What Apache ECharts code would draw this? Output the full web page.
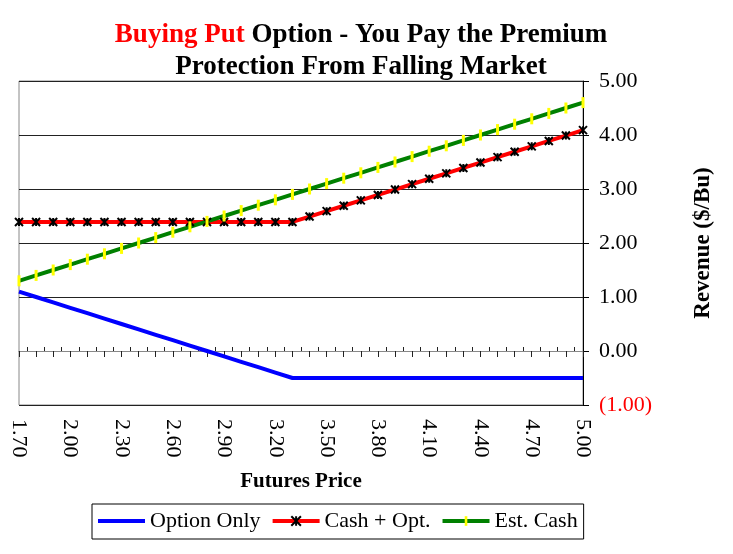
<!DOCTYPE html>
<html>
<head>
<meta charset="utf-8">
<script src="https://cdn.jsdelivr.net/npm/echarts@6/dist/echarts.min.js"></script>
<style>
html,body{margin:0;padding:0;background:#fff;}
#chart{width:733px;height:554px;}
</style>
</head>
<body>
<div id="chart"></div>
<script>
// ---- data ----
const categories = ['1.70','1.80','1.90','2.00','2.10','2.20','2.30','2.40','2.50','2.60','2.70','2.80','2.90','3.00','3.10','3.20','3.30','3.40','3.50','3.60','3.70','3.80','3.90','4.00','4.10','4.20','4.30','4.40','4.50','4.60','4.70','4.80','4.90','5.00'];
const midCategories = ['1.75','1.85','1.95','2.05','2.15','2.25','2.35','2.45','2.55','2.65','2.75','2.85','2.95','3.05','3.15','3.25','3.35','3.45','3.55','3.65','3.75','3.85','3.95','4.05','4.15','4.25','4.35','4.45','4.55','4.65','4.75','4.85','4.95'];
const optionOnly = [1.10,1.00,0.90,0.80,0.70,0.60,0.50,0.40,0.30,0.20,0.10,0.00,-0.10,-0.20,-0.30,-0.40,-0.50,-0.50,-0.50,-0.50,-0.50,-0.50,-0.50,-0.50,-0.50,-0.50,-0.50,-0.50,-0.50,-0.50,-0.50,-0.50,-0.50,-0.50];
const cashPlusOpt = [2.39,2.39,2.39,2.39,2.39,2.39,2.39,2.39,2.39,2.39,2.39,2.39,2.39,2.39,2.39,2.39,2.39,2.49,2.59,2.69,2.79,2.89,2.99,3.09,3.19,3.29,3.39,3.49,3.59,3.69,3.79,3.89,3.99,4.09];
const estCash = [1.30,1.40,1.50,1.60,1.70,1.80,1.90,2.00,2.10,2.20,2.30,2.40,2.50,2.60,2.70,2.80,2.90,3.00,3.10,3.20,3.30,3.40,3.50,3.60,3.70,3.80,3.90,4.00,4.10,4.20,4.30,4.40,4.50,4.60];
const seriesNames = ['Option Only','Cash + Opt.','Est. Cash'];
const yMin = -1, yMax = 5, yStep = 1;

const FONT = "'Liberation Serif','Times New Roman',serif";
const chart = echarts.init(document.getElementById('chart'), null, {renderer:'canvas'});
const xMark = 'path://M0,0L10,10M10,0L0,10M5,0L5,10';
const barMark = 'path://M0,0M11,11M4,0L7,0L7,11L4,11Z';

chart.setOption({
  animation: false,
  backgroundColor: '#fff',
  title: {
    text: '{r|Buying Put} {b|Option - You Pay the Premium}\n{b|Protection From Falling Market}',
    left: 356,
    textAlign: 'center',
    top: 14,
    textStyle: {
      fontFamily: FONT, fontSize: 27, fontWeight: 'bold', color: '#000', lineHeight: 32,
      rich: {
        r: {fontFamily: FONT, fontSize: 27, fontWeight: 'bold', color: '#ff0000', lineHeight: 32},
        b: {fontFamily: FONT, fontSize: 27, fontWeight: 'bold', color: '#000', lineHeight: 32}
      }
    }
  },
  legend: {
    data: [
      {name: seriesNames[0], icon: 'path://M0,0L47,0L47,4L0,4Z'},
      {name: seriesNames[1]},
      {name: seriesNames[2]}
    ],
    left: 92, top: 504,
    padding: [6, 6, 7, 6],
    borderColor: '#000', borderWidth: 1,
    itemWidth: 47, itemHeight: 12, itemGap: 10,
    lineStyle: {width: 4},
    textStyle: {fontFamily: FONT, fontSize: 22, color: '#000'}
  },
  grid: {
    left: 19, right: 150, top: 81, bottom: 149,
    show: true, borderColor: '#888', borderWidth: 1, backgroundColor: 'transparent'
  },
  xAxis: [
    {
      type: 'category', data: categories, boundaryGap: false, position: 'bottom',
      axisLine: {show: false, onZero: false},
      axisTick: {show: false},
      splitLine: {show: false},
      axisLabel: {interval: 2, rotate: -90, margin: 14, fontFamily: FONT, fontSize: 22, color: '#000'},
      name: 'Futures Price', nameLocation: 'middle', nameGap: 66,
      nameTextStyle: {fontFamily: FONT, fontSize: 21, fontWeight: 'bold', color: '#000'}
    },
    {
      type: 'category', data: categories, boundaryGap: false, position: 'bottom',
      axisLine: {show: true, onZero: true, onZeroAxisIndex: 0, lineStyle: {color: '#888', width: 1}},
      axisTick: {show: true, interval: 0, length: 6, inside: false, lineStyle: {color: '#222'}},
      axisLabel: {show: false}, splitLine: {show: false}
    },
    {
      type: 'category', data: midCategories, boundaryGap: true, position: 'top',
      axisLine: {show: true, onZero: true, onZeroAxisIndex: 1, lineStyle: {color: '#888', width: 1}},
      axisTick: {show: true, interval: 0, alignWithLabel: true, length: 4, inside: false, lineStyle: {color: '#222'}},
      axisLabel: {show: false}, splitLine: {show: false}
    }
  ],
  yAxis: [
    {
      type: 'value', position: 'right', min: yMin, max: yMax, interval: yStep,
      axisLine: {show: true, lineStyle: {color: '#000', width: 1}},
      axisTick: {show: true, length: 6, inside: false, lineStyle: {color: '#000'}},
      splitLine: {show: true, lineStyle: {color: '#222', width: 1}},
      axisLabel: {
        margin: 16, fontFamily: FONT, fontSize: 22,
        formatter: v => v < 0 ? '(' + Math.abs(v).toFixed(2) + ')' : v.toFixed(2),
        color: v => (Number(v) < 0 ? '#ff0000' : '#000')
      },
      name: 'Revenue ($/Bu)', nameLocation: 'middle', nameGap: 109, nameRotate: 90,
      nameTextStyle: {fontFamily: FONT, fontSize: 23, fontWeight: 'bold', color: '#000'}
    },
    {
      type: 'value', position: 'left', min: yMin, max: yMax, interval: yStep,
      axisLine: {show: false}, axisTick: {show: false}, axisLabel: {show: false}, splitLine: {show: false}
    }
  ],
  series: [
    {
      name: seriesNames[0], type: 'line', xAxisIndex: 0, yAxisIndex: 0, data: optionOnly,
      symbol: 'none', showSymbol: false,
      lineStyle: {color: '#0000ff', width: 4}, itemStyle: {color: '#0000ff'}
    },
    {
      name: seriesNames[1], type: 'line', xAxisIndex: 0, yAxisIndex: 0, data: cashPlusOpt,
      symbol: xMark, symbolSize: 8, showAllSymbol: true,
      lineStyle: {color: '#ff0000', width: 4},
      itemStyle: {color: '#000', borderColor: '#000', borderWidth: 2}
    },
    {
      name: seriesNames[2], type: 'line', xAxisIndex: 0, yAxisIndex: 0, data: estCash,
      symbol: barMark, symbolSize: 11, showAllSymbol: true,
      lineStyle: {color: '#008000', width: 4},
      itemStyle: {color: '#ffff00', borderWidth: 0}
    }
  ]
});
</script>
</body>
</html>
